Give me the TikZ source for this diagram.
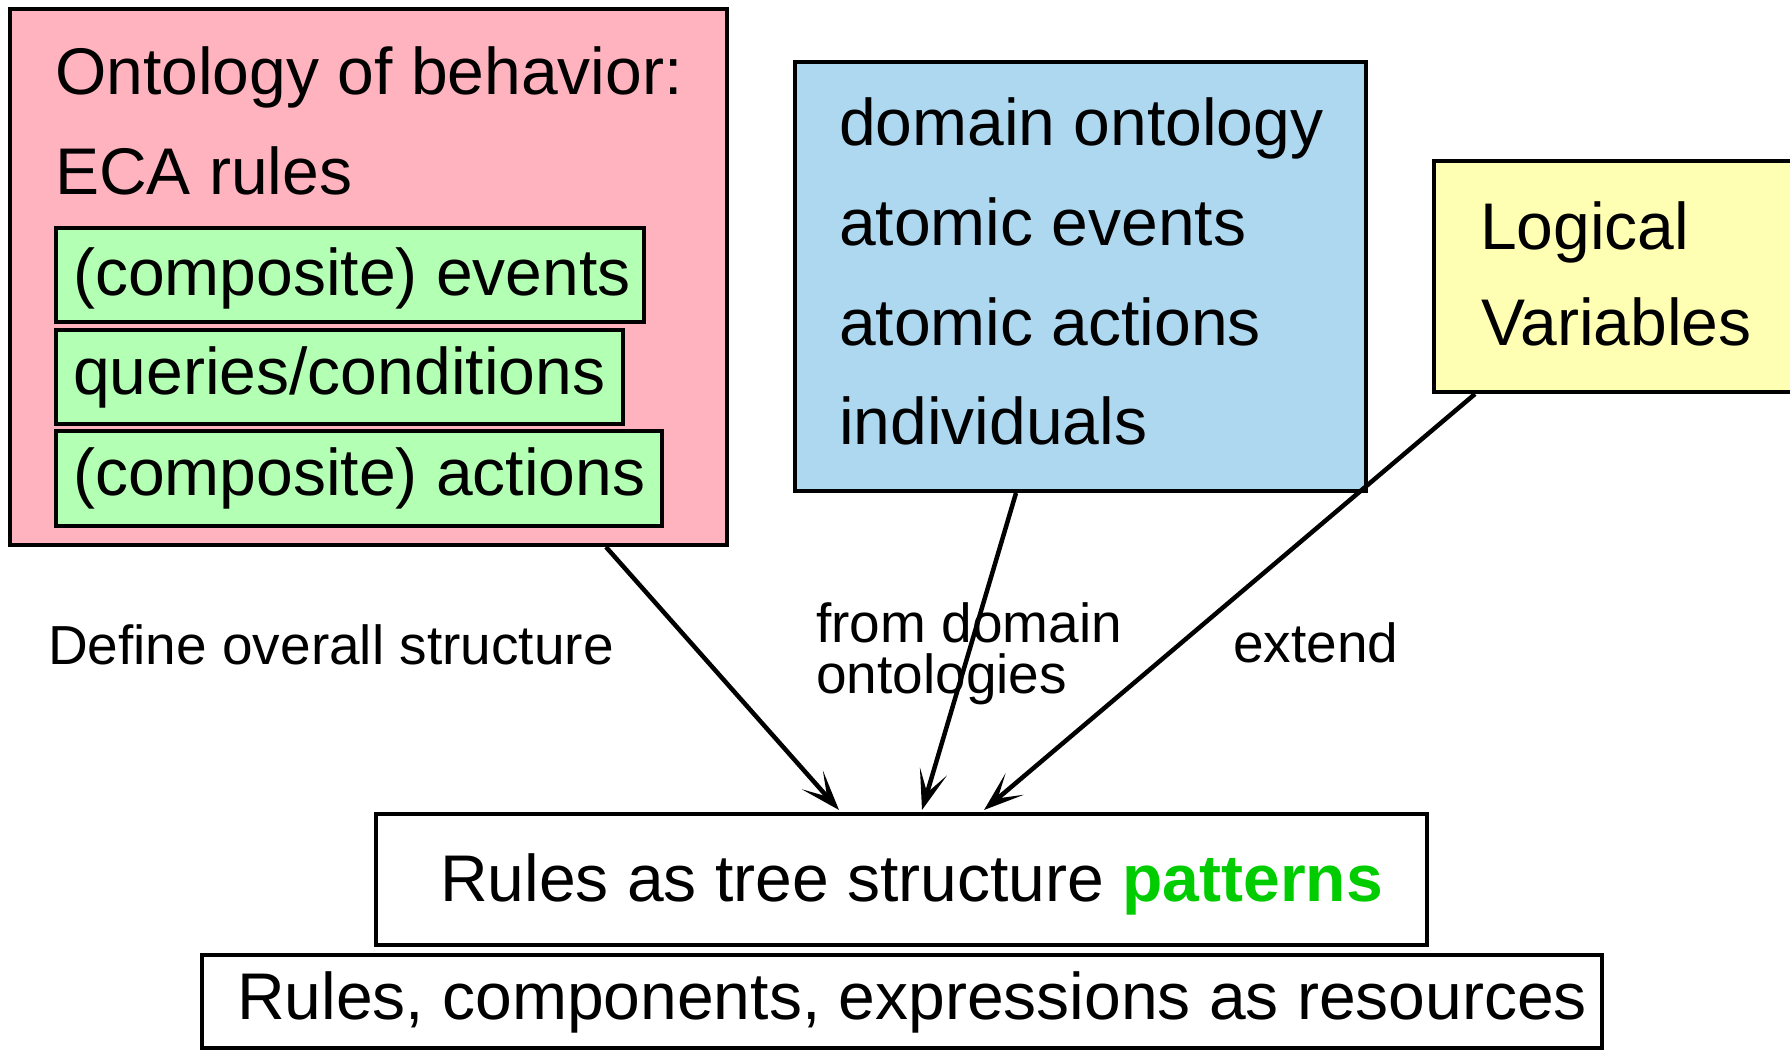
\documentclass[tikz,border=0pt]{standalone}
\usepackage{fontspec}
\setmainfont{Liberation Sans}
\usetikzlibrary{arrows.meta}
\definecolor{pinkfill}{RGB}{255,179,191}
\definecolor{greenfill}{RGB}{179,255,179}
\definecolor{bluefill}{RGB}{173,216,240}
\definecolor{yellowfill}{RGB}{255,255,179}
\definecolor{patterngreen}{RGB}{0,204,0}
\tikzset{
  box/.style={draw=black, line width=4pt, rectangle, inner sep=0pt},
  big/.style={inner sep=0pt, anchor=base west, font=\fontsize{66}{66}\selectfont},
  lbl/.style={inner sep=0pt, anchor=base west, font=\fontsize{55}{55}\selectfont},
  arr/.style={line width=4.5pt, -{Stealth[length=40pt, width=28pt, inset=22pt]}},
}
\begin{document}
\begin{tikzpicture}[x=1pt, y=-1pt]
\useasboundingbox (0,0) rectangle (1790,1051);
\begin{scope}
\clip (0,0) rectangle (1790,1051);
% behaviour ontology box with its three component boxes
\node[box, fill=pinkfill, minimum width=717pt, minimum height=536pt] (behav) at (368.5,277) {};
\node[box, fill=greenfill, minimum width=588pt, minimum height=94pt] (events) at (350,275) {};
\node[box, fill=greenfill, minimum width=567pt, minimum height=94pt] (queries) at (339.5,377) {};
\node[box, fill=greenfill, minimum width=606pt, minimum height=95pt] (actions) at (359,478.5) {};
% domain ontology box
\node[box, fill=bluefill, minimum width=571pt, minimum height=429pt] (domain) at (1080.5,276.5) {};
% logical variables box, running off the right edge
\node[box, fill=yellowfill, minimum width=366pt, minimum height=231pt] (logvar) at (1617,276.5) {};
% bottom layers
\node[box, fill=white, minimum width=1051pt, minimum height=131pt] (rules) at (901.5,879.5) {};
\node[box, fill=white, minimum width=1400pt, minimum height=93pt] (res) at (902,1001.5) {};
\end{scope}

% texts
\node[big] (t1) at (55,95) {Ontology of behavior:};
\node[big] (t2) at (55,194) {ECA rules};
\node[big] (t3) at (73,295) {(composite) events};
\node[big] (t4) at (73,394) {queries/conditions};
\node[big] (t5) at (73,495) {(composite) actions};
\node[big] (t6) at (839,146) {domain ontology};
\node[big] (t7) at (839,245) {atomic events};
\node[big] (t8) at (839,345) {atomic actions};
\node[big] (t9) at (839,444) {individuals};
\node[big] (t10) at (1480,249) {Logical};
\node[big] (t11) at (1481,345) {Variables};
\node[big] (t12) at (440,901) {Rules as tree structure \textcolor{patterngreen}{\bfseries patterns}};
\node[big] (t13) at (237,1019) {Rules, components, expressions as resources};

% connector labels
\node[lbl] (l1) at (48,664) {Define overall structure};
\node[lbl] (l2) at (816,642) {from domain};
\node[lbl] (l3) at (816,693) {ontologies};
\node[lbl] (l4) at (1233,662) {extend};

% connectors
\draw[arr] ([xshift=237.5pt]behav.south) -- ([xshift=-62.5pt, yshift=2pt]rules.north);
\draw[arr] ([xshift=-64.5pt]domain.south) -- ([xshift=20.5pt, yshift=2pt]rules.north);
\draw[arr] ([xshift=-142pt]logvar.south) -- ([xshift=82.5pt, yshift=2pt]rules.north);
\end{tikzpicture}
\end{document}
